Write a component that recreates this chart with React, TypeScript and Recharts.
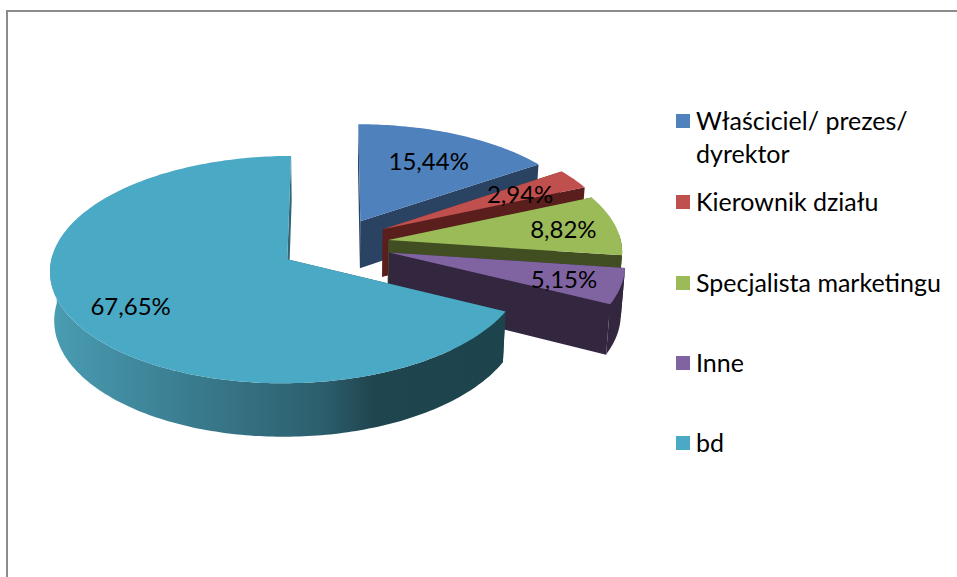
import { PieChart, Pie, Legend } from 'recharts'

const CATEGORIES = ['Właściciel/ prezes/ dyrektor', 'Kierownik działu', 'Specjalista marketingu', 'Inne', 'bd']
const VALUES = [15.44, 2.94, 8.82, 5.15, 67.65]

const COLORS = ['#4f81bd', '#c0504d', '#9bbb59', '#8064a2', '#4aa9c4']
const WALL_COLORS = ['#2a4362', '#5a1f1d', '#414e22', '#33263f', 'url(#cyanWall)']
// how far along the radius each label sits
const LABEL_RADIUS = [0.69, 0.71, 0.77, 0.76, 0.745]
// small per slice corrections, the 3d view of the original is not quite regular
const NUDGE_X = [3, 4, 3, 5, 0]
const NUDGE_Y = [2, -1, 0, 0, 0]

const TILT = 0.472
const PERSPECTIVE = 0.09
const EXPLODE_X = 0.228
const EXPLODE_Y = 0.26
const DEPTH = 48

const FONT = 'Lato, "Open Sans", sans-serif'

const chartData = CATEGORIES.map((name, i) => ({ name, value: VALUES[i], fill: COLORS[i] }))

const project = (cx: number, cy: number, r: number, wx: number, wz: number, i: number, down = false) => {
  const s = 1 / (1 - PERSPECTIVE * wz)
  let x = r * wx * s
  let y = r * TILT * wz * s
  if (down) {
    x = x * 0.985
    y += DEPTH * s
  }
  return [cx + x + NUDGE_X[i], cy + y + NUDGE_Y[i]]
}

// angle in degrees clockwise from 12 o'clock
const slicePoint = (cx: number, cy: number, r: number, deg: number, dist: number, mid: number, i: number, down = false) => {
  const a = (deg * Math.PI) / 180
  const m = (mid * Math.PI) / 180
  const wx = EXPLODE_X * Math.sin(m) + dist * Math.sin(a)
  const wz = -EXPLODE_Y * Math.cos(m) - dist * Math.cos(a)
  return project(cx, cy, r, wx, wz, i, down)
}

const toPath = (pts: number[][]) =>
  'M' + pts.map((p) => p[0].toFixed(1) + ',' + p[1].toFixed(1)).join('L') + 'Z'

const Slice3D = (props: any) => {
  const { cx, cy, outerRadius, startAngle, endAngle } = props
  const name = props.payload?.name ?? props.name
  const i = CATEGORIES.indexOf(name)
  const from = 90 - startAngle
  const to = 90 - endAngle
  const mid = (from + to) / 2
  const p = (deg: number, dist: number, down = false) => slicePoint(cx, cy, outerRadius, deg, dist, mid, i, down)

  const angles: number[] = []
  for (let d = from; d < to; d += 1) angles.push(d)
  angles.push(to)

  const top = [p(from, 0), ...angles.map((d) => p(d, 1))]
  const wallWall = (deg: number) => [p(deg, 0), p(deg, 1), p(deg, 1, true), p(deg, 0, true)]
  const front = angles.filter((d) => Math.cos((d * Math.PI) / 180) < 0.05)
  const outer = [...front.map((d) => p(d, 1)), ...[...front].reverse().map((d) => p(d, 1, true))]

  return (
    <g>
      <defs>
        <linearGradient id="cyanWall" gradientUnits="userSpaceOnUse" x1="50" y1="0" x2="500" y2="0">
          <stop offset="0" stopColor="#4a9db3" />
          <stop offset="0.3" stopColor="#3a7d90" />
          <stop offset="0.6" stopColor="#2d5f6e" />
          <stop offset="0.72" stopColor="#1f454f" />
          <stop offset="1" stopColor="#1d434d" />
        </linearGradient>
      </defs>
      <path d={toPath(wallWall(from))} fill={WALL_COLORS[i]} />
      <path d={toPath(wallWall(to))} fill={WALL_COLORS[i]} />
      {front.length > 1 && <path d={toPath(outer)} fill={WALL_COLORS[i]} />}
      <path d={toPath(top)} fill={COLORS[i]} />
    </g>
  )
}

const SliceLabel = (props: any) => {
  const { cx, cy, outerRadius, midAngle, index, value } = props
  const mid = 90 - midAngle
  const [x, y] = slicePoint(cx, cy, outerRadius, mid, LABEL_RADIUS[index], mid, index)
  return (
    <text x={x} y={y} textAnchor="middle" dominantBaseline="central" fontFamily={FONT} fontSize={24} fill="#000">
      {value.toFixed(2).replace('.', ',') + '%'}
    </text>
  )
}

const LEGEND_TOPS = [0, 81, 162, 242, 322]

const LegendList = () => (
  <div style={{ position: 'relative', width: 270, height: 350, fontFamily: FONT, fontSize: 25, lineHeight: '33px', color: '#000' }}>
    {CATEGORIES.map((name, i) => (
      <div key={name} style={{ position: 'absolute', left: 0, top: LEGEND_TOPS[i], display: 'flex' }}>
        <div style={{ width: 14, height: 14, marginTop: 10, marginRight: 6, background: COLORS[i], flexShrink: 0 }} />
        <div style={{ width: 254 }}>{name}</div>
      </div>
    ))}
  </div>
)

export default function App() {
  return (
    <div style={{ position: 'absolute', left: 0, top: 0, width: 957, height: 577, background: '#fff', overflow: 'hidden' }}>
      <div style={{ position: 'absolute', left: 6, top: 10, right: -4, bottom: -4, borderLeft: '2px solid #8c8c8c', borderTop: '2px solid #8c8c8c' }} />
      <PieChart width={957} height={577} style={{ position: 'absolute', left: 0, top: 0 }}>
        <Pie
          data={chartData}
          dataKey="value"
          nameKey="name"
          cx={328}
          cy={239}
          innerRadius={0}
          outerRadius={233}
          startAngle={90}
          endAngle={-270}
          stroke="none"
          shape={Slice3D}
          label={SliceLabel}
          labelLine={false}
          isAnimationActive={false}
        />
        <Legend content={<LegendList />} wrapperStyle={{ position: 'absolute', left: 676, top: 104, width: 280 }} />
      </PieChart>
    </div>
  )
}
